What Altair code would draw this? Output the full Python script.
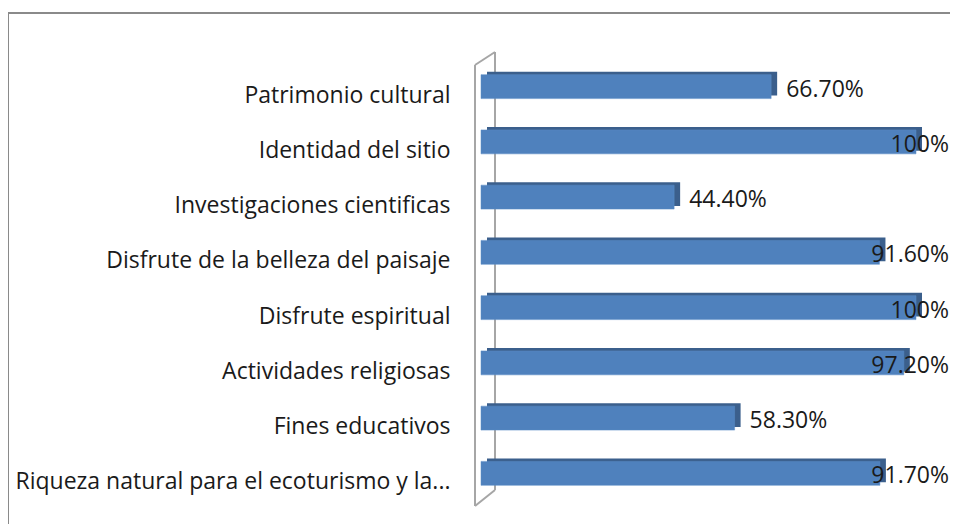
import altair as alt
import pandas as pd

categories = [
    "Patrimonio cultural",
    "Identidad del sitio",
    "Investigaciones cientificas",
    "Disfrute de la belleza del paisaje",
    "Disfrute espiritual",
    "Actividades religiosas",
    "Fines educativos",
    "Riqueza natural para el ecoturismo y la...",
]
values = [66.7, 100, 44.4, 91.6, 100, 97.2, 58.3, 91.7]
labels = ["66.70%", "100%", "44.40%", "91.60%", "100%", "97.20%", "58.30%", "91.70%"]

df = pd.DataFrame({"cat": categories, "v": values, "lab": labels})

FONT = "Open Sans"
FS = 23
W, H = 435, 442

y_enc = alt.Y("cat:N", sort=categories, title=None,
              scale=alt.Scale(paddingInner=0.566, paddingOuter=0.283),
              axis=alt.Axis(domain=False, ticks=False, labelPadding=31,
                            labelFont=FONT, labelFontSize=FS, labelColor="#1a1a1a",
                            labelLimit=1000, labelBaseline="middle", labelOffset=9))
x_scale = alt.Scale(domain=[0, 100], nice=False)
x_enc = alt.X("v:Q", scale=x_scale, axis=None, title=None)

base = alt.Chart(df)
one = "datum.cat == 'Patrimonio cultural'"

# chart border (decorative)
border = base.mark_rect(fill=None, stroke="#8a8a8a", strokeWidth=2).encode(
    x=alt.value(-473), x2=alt.value(W + 60), y=alt.value(-46), y2=alt.value(H + 60)
).transform_filter(one)

# wall (decorative 3D back plane)
wall_style = dict(color="#a6a6a6", strokeWidth=2)
w1 = base.mark_rule(**wall_style).encode(x=alt.value(-6), y=alt.value(6), x2=alt.value(-6), y2=alt.value(447)).transform_filter(one)
w2 = base.mark_rule(**wall_style).encode(x=alt.value(14), y=alt.value(-7), x2=alt.value(14), y2=alt.value(431)).transform_filter(one)
w3 = base.mark_rule(**wall_style).encode(x=alt.value(-6), y=alt.value(6), x2=alt.value(14), y2=alt.value(-7)).transform_filter(one)
w4 = base.mark_rule(**wall_style).encode(x=alt.value(-6), y=alt.value(447), x2=alt.value(14), y2=alt.value(431)).transform_filter(one)

# back/top face of bars (darker, shifted)
back = base.mark_bar(color="#3b5f8c", xOffset=6, x2Offset=6, yOffset=-3, y2Offset=-3).encode(
    x=x_enc, y=y_enc
)
front = base.mark_bar(color="#4f81bd", stroke="#5b8cc6", strokeWidth=0.5).encode(
    x=x_enc, y=y_enc
)

txt_left = base.mark_text(align="left", baseline="middle", dx=15, dy=3,
                          font=FONT, fontSize=FS, color="#1a1a1a").encode(
    x=x_enc, y=y_enc, text="lab:N"
).transform_filter("datum.v < 80")

txt_right = base.mark_text(align="right", baseline="middle", dx=33, dy=3,
                           font=FONT, fontSize=FS, color="#1a1a1a").encode(
    x=alt.datum(100, scale=x_scale), y=y_enc, text="lab:N"
).transform_filter("datum.v >= 80")

chart = alt.layer(border, w1, w2, w3, w4, back, front, txt_left, txt_right).properties(
    width=W, height=H,
    autosize=alt.AutoSizeParams(type="none"),
    padding={"left": 473, "top": 51, "right": 34, "bottom": 23},
    background="white",
).configure_view(stroke=None)

chart.save("out.html", embed_options={"renderer": "svg", "actions": False})
